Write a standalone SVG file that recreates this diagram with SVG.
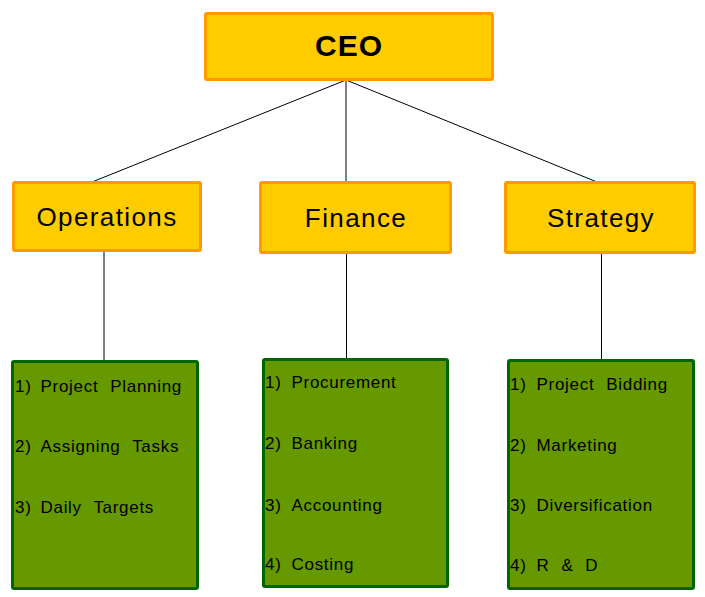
<svg xmlns="http://www.w3.org/2000/svg" width="705" height="597" viewBox="0 0 705 597">
<style>
.head{fill:#FFCC00;stroke:#FF9900;stroke-width:3}
.list{fill:#669900;stroke:#006600;stroke-width:3}
.ht{font-family:"Liberation Sans",Arial,sans-serif;font-size:26px;letter-spacing:1.4px;fill:#000;text-anchor:middle}
.ceo{font-family:"Liberation Sans",Arial,sans-serif;font-size:30px;font-weight:bold;letter-spacing:1px;fill:#000;text-anchor:middle}
.it{font-family:"Liberation Sans",Arial,sans-serif;font-size:17px;letter-spacing:0.7px;word-spacing:6.5px;fill:#000}
.conn line{stroke:#000;stroke-width:1}
</style>
<rect width="705" height="597" fill="#fff"/>
<g class="conn" id="connectors">
<line x1="346" y1="80" x2="92" y2="182"/>
<line x1="346" y1="80" x2="346" y2="182"/>
<line x1="346" y1="80" x2="597" y2="182"/>
<line x1="104" y1="252" x2="104" y2="360"/>
<line x1="346.5" y1="254" x2="346.5" y2="358"/>
<line x1="601.5" y1="254" x2="601.5" y2="359"/>
</g>
<g id="ceo">
<rect class="head" x="205.5" y="13.5" width="287" height="66" rx="1.5"/>
<text class="ceo" x="349" y="56">CEO</text>
</g>
<g id="operations">
<rect class="head" x="13.5" y="182.5" width="187" height="68" rx="1.5"/>
<text class="ht" x="107" y="226">Operations</text>
</g>
<g id="finance">
<rect class="head" x="260.5" y="182.5" width="190" height="70" rx="1.5"/>
<text class="ht" x="356" y="227">Finance</text>
</g>
<g id="strategy">
<rect class="head" x="505.5" y="182.5" width="189" height="70" rx="1.5"/>
<text class="ht" x="601" y="227">Strategy</text>
</g>
<g id="operations-tasks">
<rect class="list" x="12.5" y="361.5" width="185" height="227" rx="1.5"/>
<text class="it" y="391.5"><tspan x="15">1)</tspan><tspan x="40.5">Project Planning</tspan></text>
<text class="it" y="452"><tspan x="15">2)</tspan><tspan x="40.5">Assigning Tasks</tspan></text>
<text class="it" y="513"><tspan x="15">3)</tspan><tspan x="40.5">Daily Targets</tspan></text>
</g>
<g id="finance-tasks">
<rect class="list" x="263.5" y="359.5" width="184" height="227" rx="1.5"/>
<text class="it" y="387.5"><tspan x="265">1)</tspan><tspan x="291.5">Procurement</tspan></text>
<text class="it" y="449"><tspan x="265">2)</tspan><tspan x="291.5">Banking</tspan></text>
<text class="it" y="510.5"><tspan x="265">3)</tspan><tspan x="291.5">Accounting</tspan></text>
<text class="it" y="570"><tspan x="265">4)</tspan><tspan x="291.5">Costing</tspan></text>
</g>
<g id="strategy-tasks">
<rect class="list" x="508.5" y="360.5" width="185" height="228" rx="1.5"/>
<text class="it" y="390"><tspan x="510">1)</tspan><tspan x="536.5">Project Bidding</tspan></text>
<text class="it" y="451"><tspan x="510">2)</tspan><tspan x="536.5">Marketing</tspan></text>
<text class="it" y="511"><tspan x="510">3)</tspan><tspan x="536.5">Diversification</tspan></text>
<text class="it" y="571"><tspan x="510">4)</tspan><tspan x="536.5">R &amp; D</tspan></text>
</g>
</svg>
